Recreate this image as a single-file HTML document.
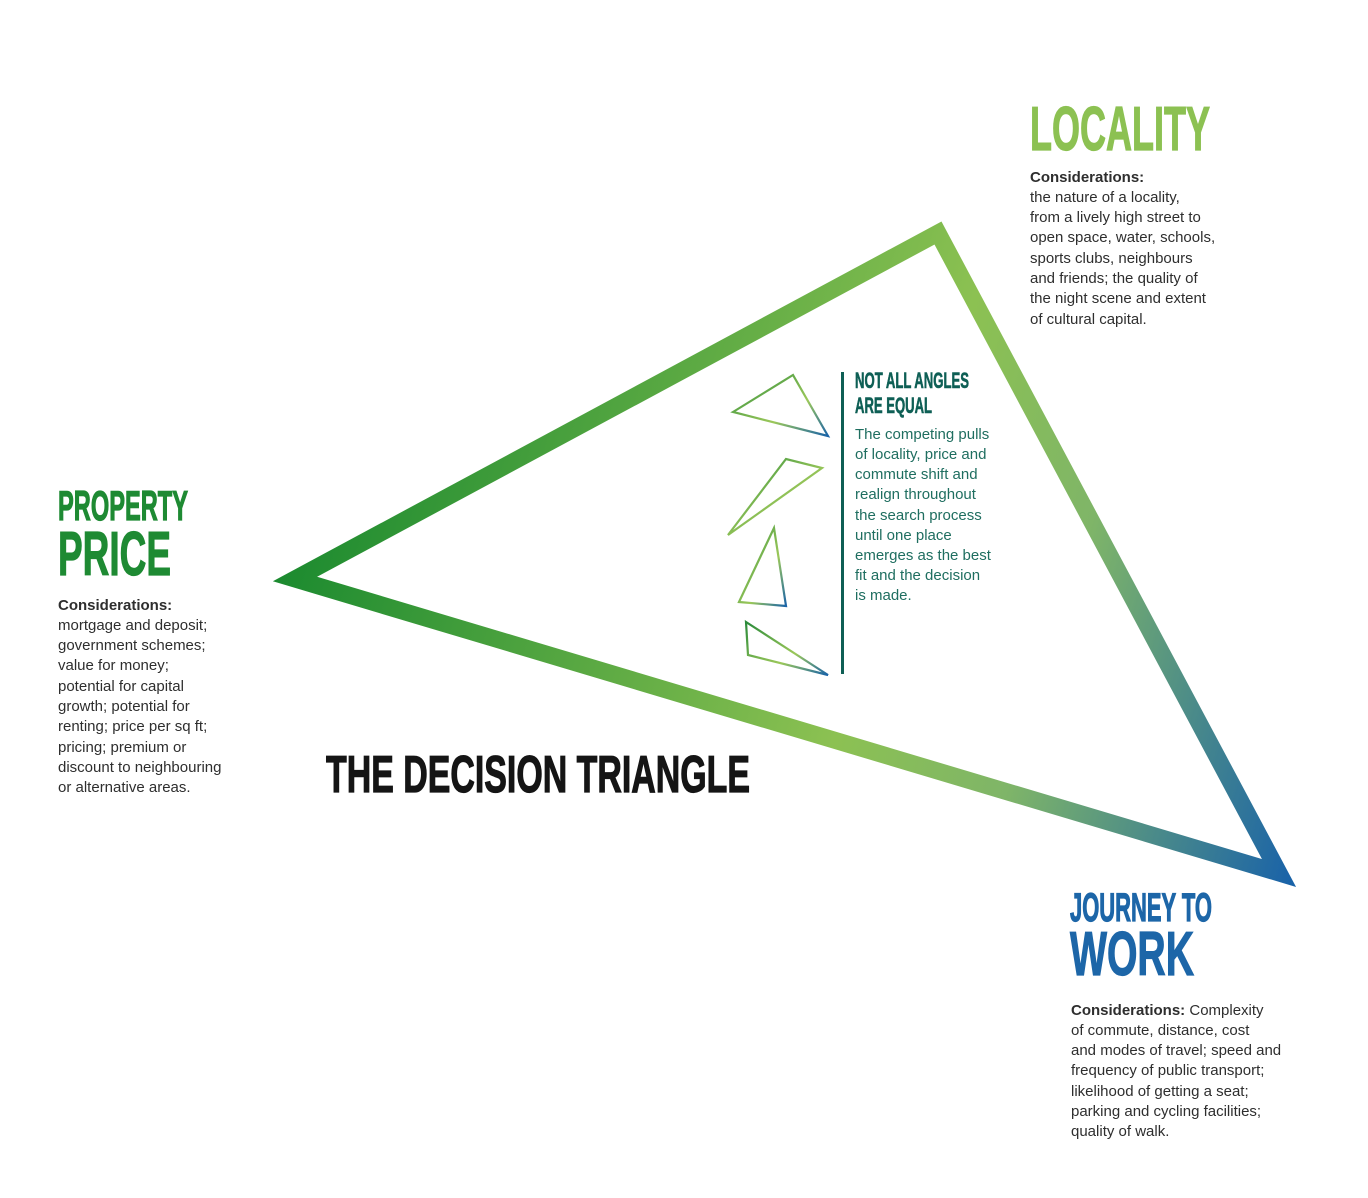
<!DOCTYPE html>
<html><head><meta charset="utf-8"><style>html,body{margin:0;padding:0;background:#fff}svg{display:block}</style></head>
<body>
<svg width="1368" height="1198" viewBox="0 0 1368 1198" xmlns="http://www.w3.org/2000/svg">
<defs>
<linearGradient id="g" gradientUnits="userSpaceOnUse" x1="280" y1="560" x2="1290" y2="880">
<stop offset="0" stop-color="#1b8a2f"/>
<stop offset="0.55" stop-color="#8cc152"/>
<stop offset="0.72" stop-color="#7fb568"/>
<stop offset="1" stop-color="#1a63a8"/>
</linearGradient>
<linearGradient id="s" gradientUnits="objectBoundingBox" x1="0" y1="0" x2="1" y2="1">
<stop offset="0" stop-color="#2a8a3a"/>
<stop offset="0.6" stop-color="#9cc85a"/>
<stop offset="1" stop-color="#1a63a8"/>
</linearGradient>
</defs>
<polygon points="295,579 938,233 1279,873" fill="none" stroke="url(#g)" stroke-width="17" stroke-linejoin="miter" stroke-miterlimit="10"/>
<g fill="none" stroke="url(#s)" stroke-width="2.2">
<polygon points="733,412 793,375 828,436"/>
<polygon points="728,535 786,459 822,468"/>
<polygon points="739,602 774,528 786,606"/>
<polygon points="746,622 828,675 748,655"/>
</g>
<rect x="841" y="372" width="3" height="302" fill="#0e5f55"/>
<g font-family="'Liberation Sans Narrow','Liberation Sans',sans-serif" font-weight="bold" stroke-width="1.2">
<text x="1030" y="150" font-size="62" fill="#8cc152" stroke="#8cc152" textLength="180" lengthAdjust="spacingAndGlyphs">LOCALITY</text>
<text x="58" y="520" font-size="42" fill="#1e8a33" stroke="#1e8a33" textLength="130" lengthAdjust="spacingAndGlyphs">PROPERTY</text>
<text x="58" y="575" font-size="62" fill="#1e8a33" stroke="#1e8a33" textLength="113" lengthAdjust="spacingAndGlyphs">PRICE</text>
<text x="326" y="792" font-size="52" fill="#151515" stroke="#151515" textLength="424" lengthAdjust="spacingAndGlyphs">THE DECISION TRIANGLE</text>
<text x="1070" y="921" font-size="40" fill="#1d66a8" stroke="#1d66a8" textLength="142" lengthAdjust="spacingAndGlyphs">JOURNEY TO</text>
<text x="1070" y="975" font-size="62" fill="#1d66a8" stroke="#1d66a8" textLength="124" lengthAdjust="spacingAndGlyphs">WORK</text>
<text x="855" y="388" font-size="22" fill="#0e5f55" stroke="#0e5f55" stroke-width="0.6" textLength="114" lengthAdjust="spacingAndGlyphs">NOT ALL ANGLES</text>
<text x="855" y="413" font-size="22" fill="#0e5f55" stroke="#0e5f55" stroke-width="0.6" textLength="77" lengthAdjust="spacingAndGlyphs">ARE EQUAL</text>
</g>
<g font-family="'Liberation Sans',sans-serif" font-size="15" fill="#2e2e2e">
<text x="1030" y="182" font-weight="bold">Considerations:</text>
<text x="1030" y="202">the nature of a locality,</text>
<text x="1030" y="222">from a lively high street to</text>
<text x="1030" y="242">open space, water, schools,</text>
<text x="1030" y="263">sports clubs, neighbours</text>
<text x="1030" y="283">and friends; the quality of</text>
<text x="1030" y="303">the night scene and extent</text>
<text x="1030" y="324">of cultural capital.</text>

<text x="58" y="610" font-weight="bold">Considerations:</text>
<text x="58" y="630">mortgage and deposit;</text>
<text x="58" y="650">government schemes;</text>
<text x="58" y="670">value for money;</text>
<text x="58" y="691">potential for capital</text>
<text x="58" y="711">growth; potential for</text>
<text x="58" y="731">renting; price per sq ft;</text>
<text x="58" y="752">pricing; premium or</text>
<text x="58" y="772">discount to neighbouring</text>
<text x="58" y="792">or alternative areas.</text>

<text x="1071" y="1015"><tspan font-weight="bold">Considerations:</tspan> Complexity</text>
<text x="1071" y="1035">of commute, distance, cost</text>
<text x="1071" y="1055">and modes of travel; speed and</text>
<text x="1071" y="1075">frequency of public transport;</text>
<text x="1071" y="1096">likelihood of getting a seat;</text>
<text x="1071" y="1116">parking and cycling facilities;</text>
<text x="1071" y="1136">quality of walk.</text>
</g>
<g font-family="'Liberation Sans',sans-serif" font-size="15" fill="#1f6e60">
<text x="855" y="439">The competing pulls</text>
<text x="855" y="459">of locality, price and</text>
<text x="855" y="479">commute shift and</text>
<text x="855" y="499">realign throughout</text>
<text x="855" y="520">the search process</text>
<text x="855" y="540">until one place</text>
<text x="855" y="560">emerges as the best</text>
<text x="855" y="580">fit and the decision</text>
<text x="855" y="600">is made.</text>
</g>
</svg>
</body></html>
